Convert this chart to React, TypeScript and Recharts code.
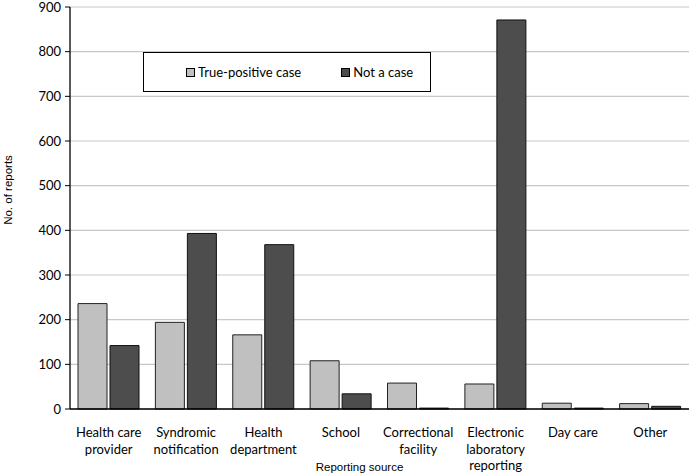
import React from "react";
import { Bar, BarChart, CartesianGrid, XAxis, YAxis } from "recharts";

const categories = [
  "Health care provider",
  "Syndromic notification",
  "Health department",
  "School",
  "Correctional facility",
  "Electronic laboratory reporting",
  "Day care",
  "Other",
];

const truePositive = [236, 194, 166, 108, 58, 56, 13, 12];
const notACase = [142, 393, 368, 34, 2, 871, 2, 6];

const yTicks = [0, 100, 200, 300, 400, 500, 600, 700, 800, 900];

// how each category name wraps under the axis
const labelLines: Record<string, string[]> = {
  "Health care provider": ["Health care", "provider"],
  "Syndromic notification": ["Syndromic", "notification"],
  "Health department": ["Health", "department"],
  School: ["School"],
  "Correctional facility": ["Correctional", "facility"],
  "Electronic laboratory reporting": ["Electronic", "laboratory", "reporting"],
  "Day care": ["Day care"],
  Other: ["Other"],
};

const data = categories.map((name, i) => ({
  name,
  truePositive: truePositive[i],
  notACase: notACase[i],
}));

const FONT = "Lato, 'Open Sans', sans-serif";
const TITLE_FONT = "'Liberation Sans', Arial, sans-serif";
const LIGHT = "#c0c0c0";
const DARK = "#4d4d4d";

function CategoryTick(props: any) {
  const { x, y, payload } = props;
  const lines = labelLines[payload.value] ?? [payload.value];
  return (
    <g transform={`translate(${x},${y})`}>
      {lines.map((line, i) => (
        <text
          key={i}
          x={0}
          y={20 + i * 16.5}
          textAnchor="middle"
          fontSize={13}
          fontFamily={FONT}
          fill="#000"
        >
          {line}
        </text>
      ))}
    </g>
  );
}

function LegendBox() {
  const swatch = (color: string) => (
    <span
      style={{
        width: 7,
        height: 7,
        background: color,
        border: "1px solid #000",
        marginRight: 3,
        display: "inline-block",
      }}
    />
  );
  return (
    <div
      style={{
        position: "absolute",
        left: 143,
        top: 52,
        width: 288,
        height: 40,
        border: "1.5px solid #000",
        background: "#fff",
        display: "flex",
        alignItems: "center",
        fontFamily: FONT,
        fontSize: 13,
        color: "#000",
        boxSizing: "border-box",
      }}
    >
      <span style={{ marginLeft: 42, display: "flex", alignItems: "center" }}>
        {swatch(LIGHT)}
        True-positive case
      </span>
      <span style={{ marginLeft: 40, display: "flex", alignItems: "center" }}>
        {swatch(DARK)}
        Not a case
      </span>
    </div>
  );
}

export default function App() {
  return (
    <div style={{ position: "absolute", left: 0, top: 0, width: 689, height: 473, background: "#fff" }}>
      <BarChart
        width={689}
        height={473}
        data={data}
        margin={{ top: 7, right: 0, left: 0, bottom: 0 }}
        barSize={29}
        barGap={3}
      >
        <CartesianGrid vertical={false} stroke="#c8c8c8" strokeWidth={1.2} />
        <XAxis
          dataKey="name"
          tick={<CategoryTick />}
          tickLine={false}
          axisLine={{ stroke: "#000", strokeWidth: 1.3 }}
          interval={0}
          height={64}
          label={{
            value: "Reporting source",
            position: "insideBottom",
            offset: 0,
            dx: -20,
            dy: -2,
            fontSize: 11.5,
            fontFamily: TITLE_FONT,
            fill: "#000",
          }}
        />
        <YAxis
          width={70}
          domain={[0, 900]}
          ticks={yTicks}
          interval={0}
          tickSize={5}
          tickMargin={4}
          tick={{ fontSize: 13, fontFamily: FONT, fill: "#000" }}
          tickLine={{ stroke: "#000" }}
          axisLine={{ stroke: "#000", strokeWidth: 1.3 }}
          label={{
            value: "No. of reports",
            angle: -90,
            position: "insideLeft",
            offset: 0,
            dx: 8,
            dy: -18,
            fontSize: 11.5,
            fontFamily: TITLE_FONT,
            fill: "#000",
            style: { textAnchor: "middle" },
          }}
        />
        <Bar
          dataKey="truePositive"
          name="True-positive case"
          fill={LIGHT}
          stroke="#222"
          strokeWidth={1}
          isAnimationActive={false}
        />
        <Bar
          dataKey="notACase"
          name="Not a case"
          fill={DARK}
          stroke="#111"
          strokeWidth={1}
          isAnimationActive={false}
        />
      </BarChart>
      <LegendBox />
    </div>
  );
}
